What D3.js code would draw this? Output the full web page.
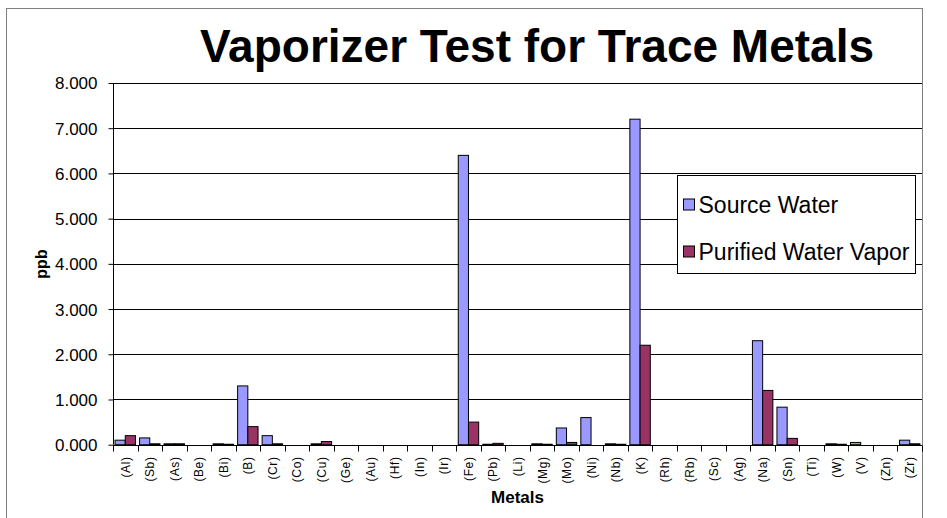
<!DOCTYPE html>
<html>
<head>
<meta charset="utf-8">
<script src="https://cdn.jsdelivr.net/npm/d3@7"></script>
<style>
  body { margin: 0; background: #fff; }
  svg, svg text { font-family: "Liberation Sans", Arial, sans-serif; }
</style>
</head>
<body>
<div id="chart"></div>
<script>
const metals = ["(Al)", "(Sb)", "(As)", "(Be)", "(Bi)", "(B)", "(Cr)", "(Co)", "(Cu)", "(Ge)", "(Au)",
	"(Hf)", "(In)", "(Ir)", "(Fe)", "(Pb)", "(Li)", "(Mg)", "(Mo)", "(Ni)", "(Nb)", "(K)",
	"(Rh)", "(Rb)", "(Sc)", "(Ag)", "(Na)", "(Sn)", "(Ti)", "(W)", "(V)", "(Zn)", "(Zr)"];
const sourceWater = [0.1, 0.15, 0.02, 0, 0.02, 1.3, 0.2, 0, 0.02, 0, 0,
	0, 0, 0, 6.4, 0.01, 0, 0.02, 0.37, 0.6, 0.02, 7.2,
	0, 0, 0, 0, 2.3, 0.83, 0, 0.02, 0.05, 0, 0.1];
const purifiedVapor = [0.2, 0.02, 0.02, 0, 0.01, 0.4, 0.02, 0, 0.07, 0, 0,
	0, 0, 0, 0.5, 0.03, 0, 0.01, 0.05, 0, 0.01, 2.2,
	0, 0, 0, 0, 1.2, 0.14, 0, 0.01, 0, 0, 0.02];
const seriesNames = ["Source Water", "Purified Water Vapor"];
const seriesColors = ["#9999FF", "#993366"];
const yTicks = [0, 1, 2, 3, 4, 5, 6, 7, 8];

const w = 947, h = 518;
const margin = { t: 83, r: 25, b: 73, l: 113 };

const svg = d3.select("#chart").append("svg")
	.attr("width", w)
	.attr("height", h);

// outer chart border
svg.append("rect")
	.attr("x", 6.5).attr("y", 8.5)
	.attr("width", 916).attr("height", 520)
	.attr("fill", "none")
	.attr("stroke", "#808080");

svg.append("text")
	.attr("x", 537).attr("y", 62)
	.attr("text-anchor", "middle")
	.attr("font-size", 46)
	.attr("font-weight", "bold")
	.text("Vaporizer Test for Trace Metals");

const xScale = d3.scaleBand()
	.domain(metals)
	.range([margin.l, w - margin.r]);

const inner = d3.scaleBand()
	.domain(seriesNames)
	.range([0, xScale.bandwidth()])
	.paddingInner(0)
	.paddingOuter(0.2);

const yScale = d3.scaleLinear()
	.domain([0, 8])
	.range([h - margin.b - 0.3, margin.t]);

// gridlines
svg.append("g").selectAll("line")
	.data(yTicks.slice(1))
	.join("line")
	.attr("x1", margin.l).attr("x2", w - margin.r)
	.attr("y1", d => Math.round(yScale(d)) + 0.5)
	.attr("y2", d => Math.round(yScale(d)) + 0.5)
	.attr("stroke", "#000");

// bars
const rows = metals.map((m, i) => ({ m, vals: [sourceWater[i], purifiedVapor[i]] }));
const groups = svg.append("g").selectAll("g")
	.data(rows)
	.join("g")
	.attr("transform", d => `translate(${xScale(d.m)},0)`);

groups.selectAll("rect")
	.data(d => d.vals.map((v, k) => ({ v, s: seriesNames[k], k })).filter(e => e.v > 0))
	.join("rect")
	.attr("x", d => inner(d.s))
	.attr("y", d => yScale(d.v))
	.attr("width", inner.bandwidth())
	.attr("height", d => yScale(0) - yScale(d.v))
	.attr("fill", d => seriesColors[d.k])
	.attr("stroke", "#000")
	.attr("stroke-width", 1);

// y axis
const yAxis = d3.axisLeft(yScale)
	.tickValues(yTicks)
	.tickFormat(d3.format(".3f"))
	.tickSize(5)
	.tickPadding(11);
const yAxisG = svg.append("g")
	.attr("transform", `translate(${margin.l + 0.5},0)`)
	.call(yAxis);
yAxisG.attr("font-family", null);
yAxisG.select(".domain").attr("d", `M0,${yScale(8)}V${yScale(0)}`);
yAxisG.selectAll("text").attr("font-size", 17).attr("dy", "0.35em");

// x axis: ticks at category boundaries
const xAxisG = svg.append("g")
	.attr("transform", `translate(0,${Math.round(yScale(0)) + 0.5})`);
xAxisG.append("line")
	.attr("x1", margin.l).attr("x2", w - margin.r)
	.attr("stroke", "#000");
xAxisG.selectAll("line.tick")
	.data(metals.concat(["end"]))
	.join("line")
	.attr("class", "tick")
	.attr("x1", (d, i) => Math.round(margin.l + i * xScale.step()) + 0.5)
	.attr("x2", (d, i) => Math.round(margin.l + i * xScale.step()) + 0.5)
	.attr("y1", 0).attr("y2", 6)
	.attr("stroke", "#000");
xAxisG.selectAll("text")
	.data(metals)
	.join("text")
	.attr("transform", d => `translate(${xScale(d) + xScale.bandwidth() / 2 + 4.5},11) rotate(-90)`)
	.attr("text-anchor", "end")
	.attr("font-size", 12)
	.attr("letter-spacing", 0.6)
	.text(d => d);

svg.append("text")
	.attr("x", (margin.l + w - margin.r) / 2).attr("y", 503)
	.attr("text-anchor", "middle")
	.attr("font-size", 17)
	.attr("font-weight", "bold")
	.text("Metals");

svg.append("text")
	.attr("transform", `translate(47,${(margin.t + h - margin.b) / 2}) rotate(-90)`)
	.attr("text-anchor", "middle")
	.attr("font-size", 16)
	.attr("font-weight", "bold")
	.text("ppb");

// legend
const legend = svg.append("g").attr("transform", "translate(677.5,175.5)");
legend.append("rect")
	.attr("width", 238).attr("height", 98)
	.attr("fill", "#fff")
	.attr("stroke", "#000");
const items = legend.selectAll("g")
	.data(seriesNames)
	.join("g")
	.attr("transform", (d, i) => `translate(6,${37.5 + i * 47})`);
items.append("rect")
	.attr("x", 0).attr("y", -14)
	.attr("width", 11).attr("height", 11)
	.attr("fill", (d, i) => seriesColors[i])
	.attr("stroke", "#000");
items.append("text")
	.attr("x", 15).attr("y", 0)
	.attr("font-size", 23)
	.text(d => d);
</script>
</body>
</html>
